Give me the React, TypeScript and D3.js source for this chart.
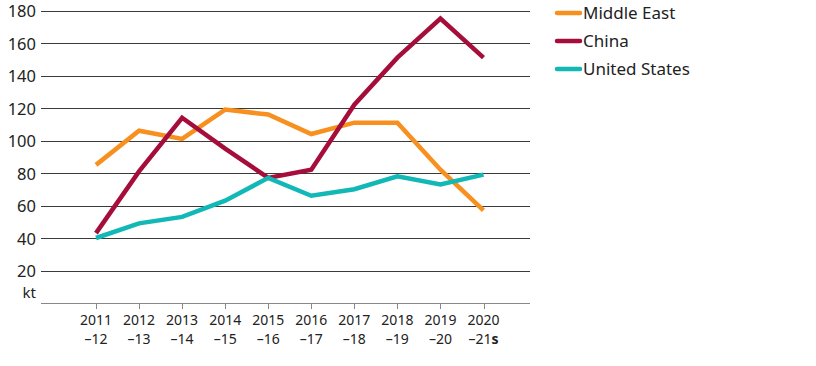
import React from "react";
import * as d3 from "d3";

const years = ["2011", "2012", "2013", "2014", "2015", "2016", "2017", "2018", "2019", "2020"];
const yearsSecond = ["–12", "–13", "–14", "–15", "–16", "–17", "–18", "–19", "–20", "–21"];
const middleEast = [85, 106, 101, 119, 116, 104, 111, 111, 82, 57];
const china = [43, 81, 114, 95, 77, 82, 122, 151, 175, 151];
const unitedStates = [40, 49, 53, 63, 77, 66, 70, 78, 73, 79];
const yTicks = [20, 40, 60, 80, 100, 120, 140, 160, 180];

const series = [
  { name: "Middle East", values: middleEast, color: "#F7901E" },
  { name: "China", values: china, color: "#A50D3A" },
  { name: "United States", values: unitedStates, color: "#12B8B5" },
];

const W = 816, H = 366;
const font = "'Noto Sans', 'Open Sans', sans-serif";

export default function App() {
  const x = d3.scalePoint<string>().domain(years).range([96, 483.5]);
  const y = d3.scaleLinear().domain([0, 180]).range([303, 10.5]);
  const line = d3.line<number>().x((_, i) => x(years[i])!).y((d) => y(d));
  const gx0 = 41, gx1 = 530;
  return (
    <svg width={W} height={H} style={{ position: "absolute", left: 0, top: 0, background: "#fff" }}>
      {yTicks.map((t) => (
        <g key={t}>
          <line x1={gx0} x2={gx1} y1={Math.round(y(t)) + 0.5} y2={Math.round(y(t)) + 0.5} stroke="#3a3a3a" strokeWidth={1} />
          <text x={36} y={y(t) + 1} dy="0.35em" textAnchor="end" fontFamily={font} fontSize={16.5} fill="#222">{t}</text>
        </g>
      ))}
      <line x1={gx0} x2={gx1} y1={303.5} y2={303.5} stroke="#888" strokeWidth={1} />
      <text x={36} y={298} textAnchor="end" fontFamily={font} fontSize={15} fill="#222">kt</text>
      {years.map((yr, i) => (
        <g key={yr}>
          <line x1={Math.round(x(yr)!) + 0.5} x2={Math.round(x(yr)!) + 0.5} y1={303.5} y2={309} stroke="#888" strokeWidth={1} />
          <text x={x(yr)} y={325} textAnchor="middle" fontFamily={font} fontSize={14} fill="#222">{yr}</text>
          <text x={x(yr)} y={344} textAnchor="middle" fontFamily={font} fontSize={14} fill="#222">
            {yearsSecond[i]}
            {i === years.length - 1 ? <tspan fontWeight="bold">s</tspan> : null}
          </text>
        </g>
      ))}
      {series.map((s) => (
        <path key={s.name} d={line(s.values)!} fill="none" stroke={s.color} strokeWidth={4.5} strokeLinejoin="miter" strokeLinecap="butt" />
      ))}
      {series.map((s, i) => (
        <g key={s.name} transform={`translate(0, ${13 + i * 28})`}>
          <line x1={557} x2={580} y1={0} y2={0} stroke={s.color} strokeWidth={4.5} strokeLinecap="round" />
          <text x={583} y={0} dy="0.35em" fontFamily={font} fontSize={17} fill="#222">{s.name}</text>
        </g>
      ))}
    </svg>
  );
}
